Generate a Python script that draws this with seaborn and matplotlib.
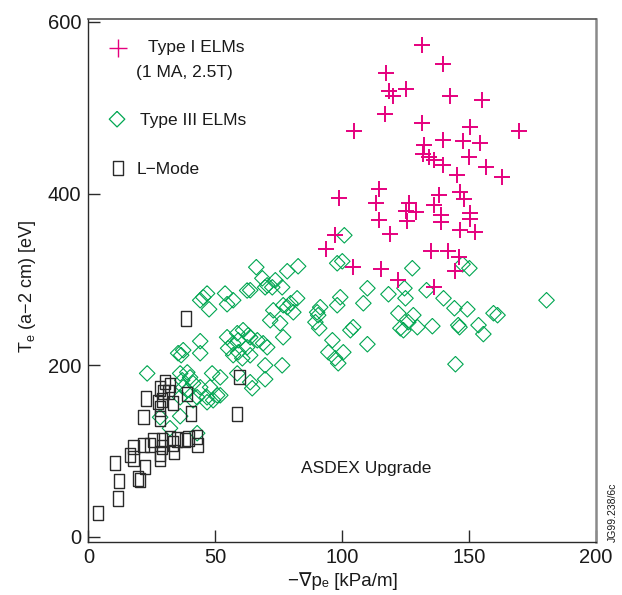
import matplotlib
matplotlib.use("Agg")
import matplotlib.pyplot as plt
import seaborn as sns
import pandas as pd

# ---- data ----
type1_x = [131.4, 139.8, 117.5, 118.5, 120.2, 125.1, 142.5, 155.1, 116.8, 104.9,
           131.4, 169.8, 150.4, 139.6, 132.2, 147.7, 154.2, 132.0, 134.2, 136.4,
           139.7, 150.2, 156.8, 145.2, 162.9, 98.8, 114.6, 113.4, 126.3, 125.1,
           129.3, 138.3, 136.3, 146.3, 148.1, 150.5, 150.5, 139.2, 139.2, 114.4,
           125.7, 119.0, 146.4, 152.6, 97.1, 93.5, 135.0, 141.7, 146.2, 144.4,
           104.2, 115.2, 122.2, 136.2]
type1_y = [572.7, 551.4, 541.0, 519.0, 514.0, 522.0, 514.0, 508.7, 492.7, 473.0,
           482.0, 473.0, 477.6, 462.0, 457.0, 461.0, 459.0, 446.6, 442.6, 438.8,
           433.8, 442.6, 431.0, 422.0, 419.3, 395.3, 405.0, 389.5, 389.5, 379.4,
           378.6, 398.8, 386.4, 401.9, 394.2, 376.8, 370.0, 375.3, 367.0, 369.7,
           367.7, 353.3, 357.0, 355.3, 352.2, 336.0, 332.8, 332.8, 326.0, 310.3,
           314.6, 312.7, 299.8, 291.2]

type3_x = [100.9, 98.1, 100.1, 127.7, 150.2, 147.5, 82.7, 78.4, 66.2, 68.6,
           69.7, 73.7, 76.4, 63.8, 110.0, 118.3, 124.6, 125.0, 133.3, 140.0,
           108.4, 99.3, 98.1, 91.4, 90.6, 82.3, 80.8, 76.8, 72.9, 71.7,
           75.6, 144.3, 149.4, 122.2, 128.1, 159.7, 161.3, 180.6, 104.4, 103.3,
           135.6, 145.8, 146.3, 153.8, 155.7, 126.1, 124.2, 123.0, 129.7, 110.0,
           96.2, 94.6, 100.5, 97.3, 98.5, 144.7, 91.0, 89.5, 76.8, 63.8,
           66.6, 68.9, 70.5, 69.7, 76.4, 63.8, 69.7, 63.8, 62.6, 46.8,
           45.3, 44.1, 47.6, 53.9, 57.1, 54.7, 23.2, 44.1, 37.4, 36.6,
           35.4, 44.1, 54.7, 58.7, 61.0, 63.0, 59.1, 57.1, 55.1, 57.1,
           59.1, 62.6, 60.7, 36.2, 39.0, 40.1, 48.8, 52.0, 58.7, 44.1,
           48.0, 50.8, 46.8, 64.6, 37.0, 41.3, 37.4, 39.0, 36.2, 42.9,
           41.3, 49.2, 46.8, 52.0, 28.3, 36.2, 32.2, 42.9, 70.5, 72.5,
           79.7, 78.4, 90.2]
type3_y = [351.4, 318.8, 321.1, 313.0, 313.0, 317.6, 315.3, 309.5, 314.2, 301.3,
           290.8, 299.0, 290.8, 287.4, 289.7, 282.7, 289.7, 278.0, 287.4, 278.0,
           272.2, 279.2, 269.9, 267.6, 258.3, 278.0, 261.7, 269.9, 264.0, 252.4,
           248.9, 266.4, 265.2, 260.6, 258.3, 260.6, 258.3, 275.7, 244.3, 240.8,
           245.5, 246.7, 244.3, 246.7, 236.3, 250.1, 240.8, 243.1, 244.3, 224.5,
           229.1, 215.1, 215.1, 208.1, 202.3, 201.2, 243.1, 250.1, 232.6, 232.6,
           229.1, 225.6, 220.9, 199.9, 199.9, 211.6, 183.7, 180.2, 287.1, 283.6,
           279.2, 275.7, 265.2, 283.6, 275.7, 271.1, 190.5, 228.0, 217.5, 211.7,
           214.0, 214.0, 232.6, 237.3, 240.8, 235.0, 229.1, 225.6, 219.8, 211.7,
           215.1, 220.9, 208.1, 190.5, 191.7, 185.9, 190.5, 185.9, 190.5, 174.3,
           174.3, 165.0, 162.7, 173.2, 182.5, 179.0, 174.3, 170.8, 162.7, 162.7,
           159.2, 159.2, 156.9, 165.0, 139.4, 140.6, 126.6, 120.8, 293.1, 290.8,
           272.2, 267.6, 261.7]

lmode_x = [59.6, 58.6, 38.4, 38.8, 33.5, 30.3, 32.2, 31.6, 28.3, 29.6,
           29.0, 27.6, 28.3, 22.8, 21.7, 28.3, 40.4, 25.7, 29.0, 32.2,
           34.9, 38.2, 39.5, 42.8, 43.0, 29.0, 28.3, 28.3, 33.9, 33.5,
           24.3, 21.7, 17.8, 16.5, 17.8, 22.4, 19.7, 20.4, 10.5, 12.2,
           11.6, 3.9]
lmode_y = [186.4, 143.0, 254.4, 166.2, 156.0, 180.6, 176.7, 168.9, 172.8, 168.9,
           159.2, 157.2, 149.5, 161.2, 139.8, 137.9, 143.7, 112.6, 112.6, 114.6,
           113.4, 112.6, 114.6, 116.5, 106.8, 104.8, 97.1, 91.3, 98.9, 108.7,
           106.8, 106.8, 104.8, 95.2, 91.3, 81.5, 68.0, 66.0, 86.2, 64.9,
           44.7, 28.0]

x_ticks = [0, 50, 100, 150, 200]
y_ticks = [0, 200, 400, 600]
legend_labels = ["Type I ELMs", "(1 MA, 2.5T)", "Type III ELMs", "L\u2212Mode"]

PINK = "#e5007e"
GREEN = "#00a651"
DARK = "#2a2a2a"

sns.set_style("white")
FAM = ["Liberation Sans", "DejaVu Sans"]
plt.rcParams["font.family"] = FAM
plt.rcParams["mathtext.fontset"] = "custom"
plt.rcParams["mathtext.rm"] = "Liberation Sans"
plt.rcParams["mathtext.it"] = "Liberation Sans:italic"

DIAMOND = [(0, 1), (1, 0), (0, -1), (-1, 0), (0, 1)]
RECT = [(-0.36, -0.5), (0.36, -0.5), (0.36, 0.5), (-0.36, 0.5), (-0.36, -0.5)]

fig = plt.figure(figsize=(6.22, 5.95), dpi=100)
ax = fig.add_axes([0.142, 0.089, 0.8158, 0.8785])

df1 = pd.DataFrame({"x": type1_x, "y": type1_y})
df3 = pd.DataFrame({"x": type3_x, "y": type3_y})
dfl = pd.DataFrame({"x": lmode_x, "y": lmode_y})

sns.scatterplot(data=dfl, x="x", y="y", marker=RECT, s=105, color=DARK,
                facecolor="none", edgecolor=DARK, linewidth=1.0, ax=ax, zorder=3)
sns.scatterplot(data=df3, x="x", y="y", marker=DIAMOND, s=125, color=GREEN,
                facecolor="none", edgecolor=GREEN, linewidth=0.8, ax=ax, zorder=2)
sns.scatterplot(data=df1, x="x", y="y", marker="+", s=130, color=PINK,
                linewidth=1.4, ax=ax, zorder=4)

ax.set_xlim(0, 200)
ax.set_ylim(-6, 603)
ax.set_xticks(x_ticks)
ax.set_yticks(y_ticks)
ax.tick_params(axis="both", direction="in", length=8.5, width=1.0, color=DARK,
               labelsize=14.5, labelcolor="#1a1a1a", pad=5,
               bottom=True, left=True, top=False, right=False)
ax.tick_params(axis="x", pad=4)

for side in ["left", "bottom"]:
    ax.spines[side].set_color(DARK)
    ax.spines[side].set_linewidth(1.0)
ax.spines["top"].set_color("#555555")
ax.spines["top"].set_linewidth(1.2)
ax.spines["right"].set_color("#8a8a8a")
ax.spines["right"].set_linewidth(1.8)

ax.set_xlabel("\u2212\u2207p\u2091 [kPa/m]", fontsize=13.5, color="#1a1a1a", family=FAM)
ax.set_ylabel("T$_\\mathregular{e}$ (a\u22122 cm) [eV]", fontsize=13, color="#1a1a1a")
ax.xaxis.set_label_coords(0.502, -0.058)
ax.yaxis.set_label_coords(-0.10, 0.488)

# legend drawn manually (keys + text)
tr = ax.transAxes
ax.scatter([0.0585], [0.945], marker="+", s=150, color=PINK, linewidth=1.0, transform=tr)
ax.text(0.118, 0.947, legend_labels[0], transform=tr, fontsize=12.5, va="center", ha="left", color="#1a1a1a")
ax.text(0.094, 0.899, legend_labels[1], transform=tr, fontsize=12.5, va="center", ha="left", color="#1a1a1a")
ax.scatter([0.0566], [0.809], marker=DIAMOND, s=125, facecolor="none", edgecolor=GREEN, linewidth=0.9, transform=tr)
ax.text(0.102, 0.807, legend_labels[2], transform=tr, fontsize=12.5, va="center", ha="left", color="#1a1a1a")
ax.scatter([0.0585], [0.7155], marker=RECT, s=110, facecolor="none", edgecolor=DARK, linewidth=1.0, transform=tr)
ax.text(0.096, 0.7136, legend_labels[3], transform=tr, fontsize=12.5, va="center", ha="left", color="#1a1a1a")

ax.text(109.6, 80, "ASDEX Upgrade", fontsize=12.5, ha="center", va="center", color="#1a1a1a")
fig.text(0.985, 0.089, "JG99.238/6c", rotation=90, fontsize=7.5, ha="center", va="bottom", color="#1a1a1a")

fig.savefig("out.png", dpi=100)
